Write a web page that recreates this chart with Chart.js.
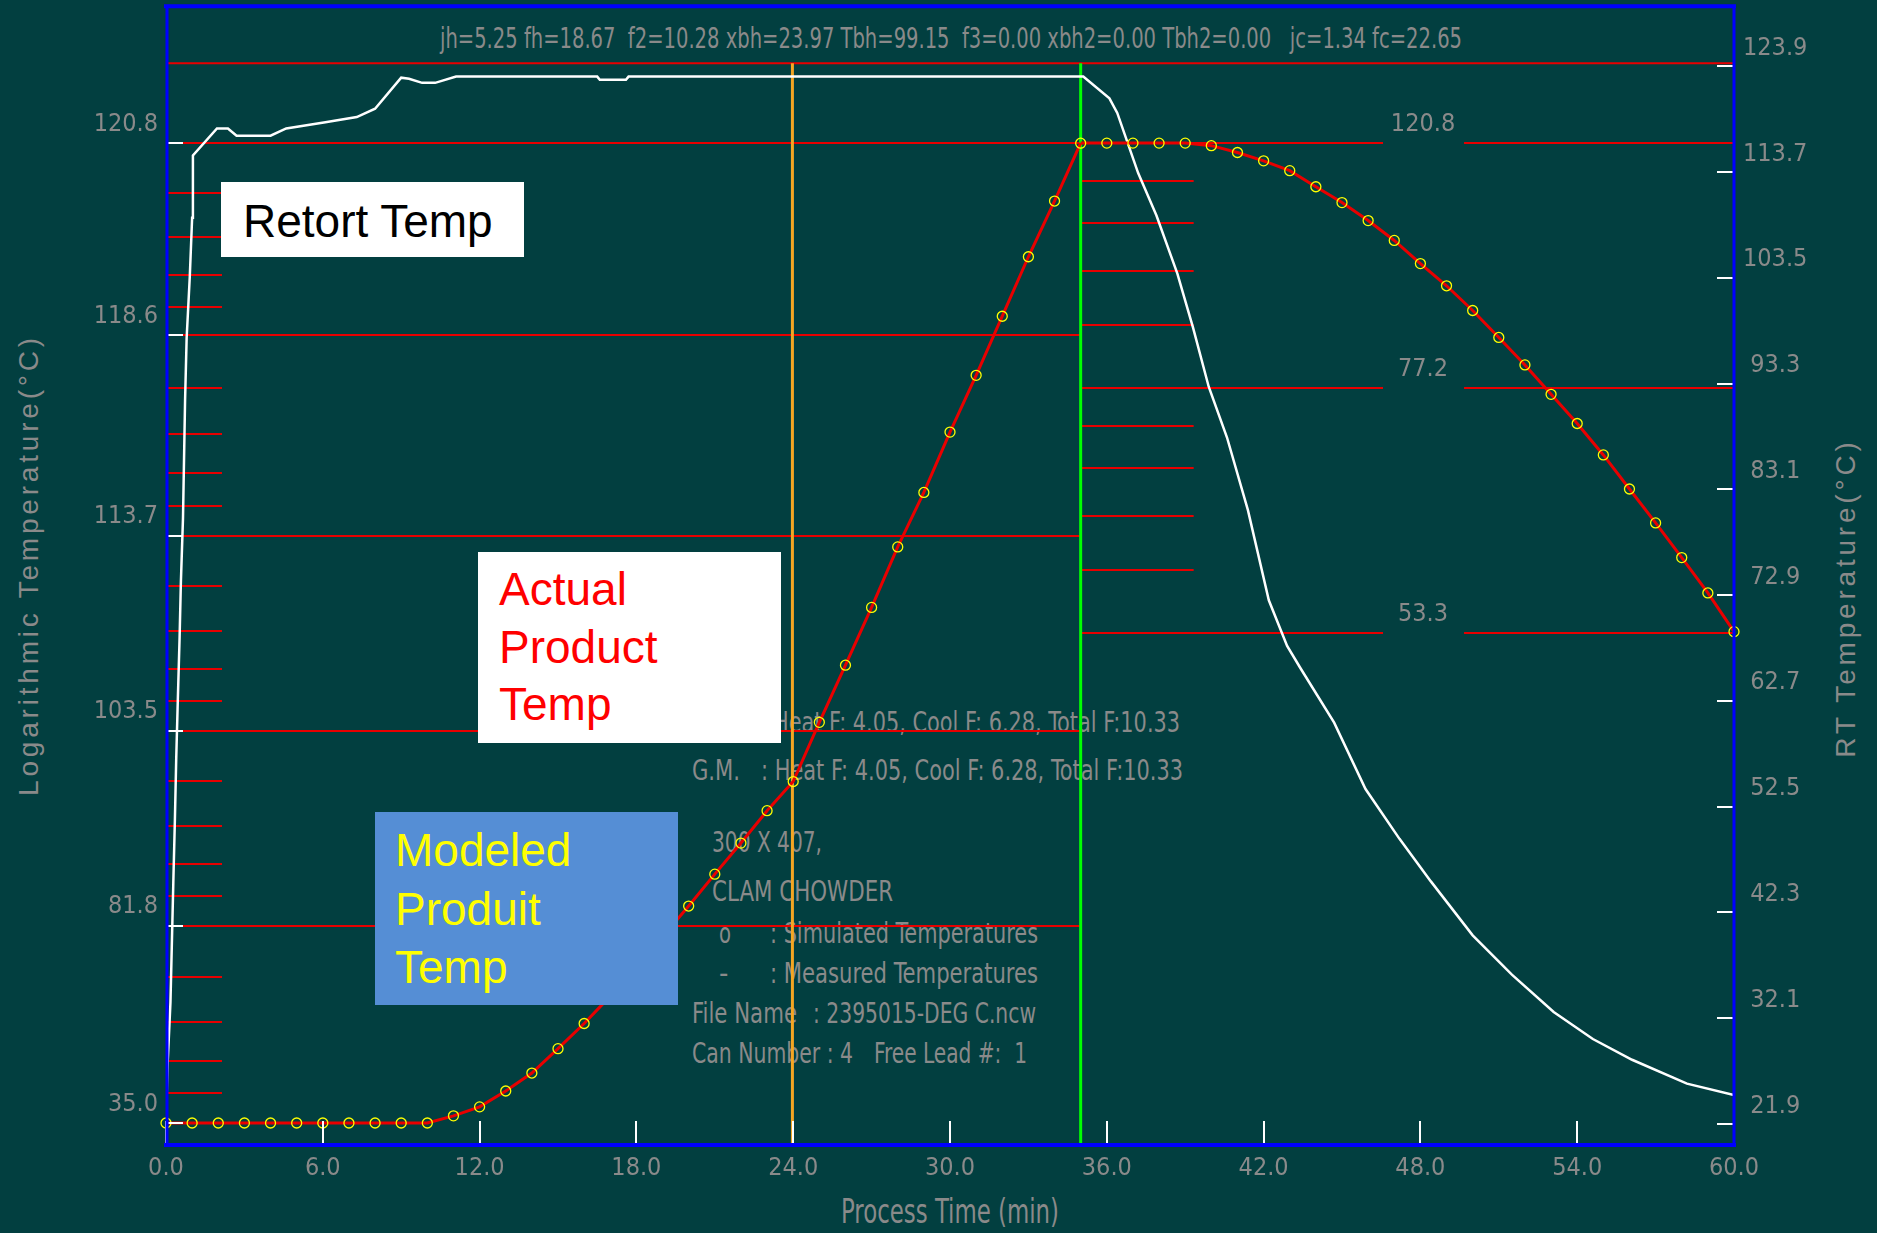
<!DOCTYPE html>
<html>
<head>
<meta charset="utf-8">
<title>Heat penetration simulation</title>
<script src="https://cdn.jsdelivr.net/npm/chart.js@4.4.1/dist/chart.umd.min.js"></script>
<style>
  body { margin: 0; background: #023f40; }
  #wrap { position: relative; width: 1877px; height: 1233px; overflow: hidden; }
  #c { position: absolute; left: 0; top: 0; z-index: 2; }
  .gt { position: absolute; z-index: 1; color: #8a8a8a; white-space: pre;
        font-family: 'Liberation Sans Narrow', 'Arial Narrow', 'DejaVu Sans Condensed', sans-serif;
        font-size: 29px; line-height: 30px; transform-origin: left center; }
  .vt { position: absolute; z-index: 1; color: #8a8a8a; white-space: pre;
        font-family: 'Liberation Sans', Arial, sans-serif; font-size: 28px; letter-spacing: 3.8px;
        transform: translate(-50%, -50%) rotate(-90deg); }
  .box { position: absolute; z-index: 3; box-sizing: border-box;
         font-family: 'Liberation Sans', Arial, sans-serif; font-size: 46px; }
</style>
</head>
<body>
<div id="wrap">
  <div class="gt" data-w="1022" style="left:440px;top:23px">jh=5.25 fh=18.67  f2=10.28 xbh=23.97 Tbh=99.15  f3=0.00 xbh2=0.00 Tbh2=0.00   jc=1.34 fc=22.65</div>

  <div class="gt" data-w="407" style="left:773px;top:707px">Heat F: 4.05, Cool F: 6.28, Total F:10.33</div>
  <div class="gt" data-w="48" style="left:692px;top:755px">G.M.</div>
  <div class="gt" data-w="422" style="left:761px;top:755px">: Heat F: 4.05, Cool F: 6.28, Total F:10.33</div>
  <div class="gt" data-w="110" style="left:712px;top:827px">300 X 407,</div>
  <div class="gt" data-w="181" style="left:712px;top:876px">CLAM CHOWDER</div>
  <div class="gt" data-w="12" style="left:719px;top:918px">o</div>
  <div class="gt" data-w="268" style="left:770px;top:918px">: Simulated Temperatures</div>
  <div class="gt" style="left:719px;top:958px">-</div>
  <div class="gt" data-w="268" style="left:770px;top:958px">: Measured Temperatures</div>
  <div class="gt" data-w="105" style="left:692px;top:998px">File Name</div>
  <div class="gt" data-w="223" style="left:813px;top:998px">: 2395015-DEG C.ncw</div>
  <div class="gt" data-w="161" style="left:692px;top:1038px">Can Number : 4</div>
  <div class="gt" data-w="153" style="left:874px;top:1038px">Free Lead #:  1</div>

  <div class="gt" data-w="218" style="left:841px;top:1195px;font-size:33px;line-height:34px">Process Time (min)</div>
  <div class="vt" style="left:29px;top:565px">Logarithmic Temperature(°C)</div>
  <div class="vt" style="left:1846px;top:598px">RT Temperature(°C)</div>

  <canvas id="c" width="1877" height="1233"></canvas>

  <div class="box" style="left:221px;top:182px;width:303px;height:75px;background:#fff;color:#000;padding:13px 0 0 22px;line-height:52px">Retort Temp</div>
  <div class="box" style="left:478px;top:552px;width:303px;height:191px;background:#fff;color:#ff0000;padding:9px 0 0 21px;line-height:57.5px">Actual<br>Product<br>Temp</div>
  <div class="box" style="left:375px;top:812px;width:303px;height:193px;background:#558ed5;color:#ffff00;padding:9px 0 0 20px;line-height:58.5px">Modeled<br>Produit<br>Temp</div>
</div>

<script>
// process time ticks (min)
var timeTicks = [0, 6, 12, 18, 24, 30, 36, 42, 48, 54, 60];

// product temperature, one reading per minute (simulated circles and measured line)
var productTime = [0, 1, 2, 3, 4, 5, 6, 7, 8, 9, 10, 11, 12, 13, 14, 15, 16, 17, 18, 19, 20,
  21, 22, 23, 24, 25, 26, 27, 28, 29, 30, 31, 32, 33, 34, 35, 36, 37, 38, 39, 40,
  41, 42, 43, 44, 45, 46, 47, 48, 49, 50, 51, 52, 53, 54, 55, 56, 57, 58, 59, 60];
var productTemp = [35.0, 35.0, 35.0, 35.0, 35.0, 35.0, 35.0, 35.0, 35.0, 35.0, 35.0,
  37.4, 40.3, 45.2, 50.4, 56.9, 63.0, 69.0, 74.7, 80.0, 84.8,
  89.2, 93.0, 96.5, 99.3, 104.1, 107.8, 110.8, 113.3, 115.1, 116.7,
  117.9, 118.9, 119.7, 120.3, 120.8, 120.8, 120.8, 120.8, 120.8, 120.2,
  118.6, 116.7, 114.5, 111.0, 107.7, 104.1, 100.3, 96.1, 92.3, 88.3,
  84.2, 80.3, 76.4, 72.8, 69.2, 65.6, 62.3, 59.2, 56.3, 53.4];

// retort temperature (right axis)
var retortTime = [0, 0.06, 0.17, 0.28, 0.34, 0.39, 0.45, 0.52, 0.57, 0.65, 0.73, 0.79, 0.91, 1.0, 1.03,
  1.95, 2.37, 2.7, 4.0, 4.6, 6.1, 7.3, 8.0, 9.0, 9.3, 9.8, 10.3, 11.1, 16.5, 16.6, 17.6, 17.7,
  35.0, 35.1, 36.1, 36.4, 37.2, 37.9, 38.7, 39.3, 39.9, 40.6, 41.4, 42.2, 42.9, 43.4, 44.7,
  45.9, 47.2, 48.4, 50.0, 51.5, 53.1, 54.6, 56.1, 58.2, 60.0];
var retortTemp = [22.0, 27.6, 33.6, 45.2, 51.2, 57.0, 62.6, 68.8, 74.2, 80.3, 91.7, 97.7, 103.6, 109.3, 115.3,
  117.9, 117.9, 117.2, 117.2, 117.9, 118.5, 119.0, 119.8, 122.8, 122.7, 122.3, 122.3, 122.9, 122.9, 122.6, 122.6, 122.9,
  122.9, 122.9, 120.8, 119.4, 113.6, 109.5, 103.9, 98.7, 93.0, 88.1, 81.1, 72.4, 68.0, 65.9, 60.6,
  54.2, 49.4, 45.3, 40.1, 36.3, 32.7, 30.1, 28.1, 25.8, 24.7];

// axis tick labels
var heatTickLabels = [120.8, 118.6, 113.7, 103.5, 81.8, 35.0];
var coolTickLabels = [120.8, 77.2, 53.3];
var rtTickLabels = [123.9, 113.7, 103.5, 93.3, 83.1, 72.9, 62.7, 52.5, 42.3, 32.1, 21.9];

// process markers
var heatBreakTime = 23.97;   // xbh
var coolStartTime = 35.0;
var topLimitTemp = 124.2;

var RT_HEAT = 122.8;   // heating axis is log(RT_HEAT - T), reversed
var T_COOL = 24.3;     // cooling axis is log(T - T_COOL)

var GREY = '#8a8a8a';
var RED = '#e80000';
var NARROW = "'Liberation Sans Narrow', 'Arial Narrow', 'DejaVu Sans Condensed', sans-serif";
var TICK_FONT = { family: NARROW, size: 25 };

// squeeze the narrow grey texts to the widths they take in the picture
document.querySelectorAll('[data-w]').forEach(function (el) {
  var w = el.getBoundingClientRect().width;
  el.style.transform = 'scaleX(' + (Number(el.dataset.w) / w) + ')';
});

var heatPts = [], coolPts = [], heatCircles = [], coolCircles = [];
productTime.forEach(function (t, i) {
  if (t <= coolStartTime) {
    heatPts.push({x: t, y: RT_HEAT - productTemp[i]});
    heatCircles.push({x: t, y: RT_HEAT - productTemp[i]});
  }
  if (t >= coolStartTime) coolPts.push({x: t, y: productTemp[i] - T_COOL});
  if (t > coolStartTime) coolCircles.push({x: t, y: productTemp[i] - T_COOL});
});
var retortPts = retortTime.map(function (t, i) { return {x: t, y: retortTemp[i]}; });

function line(ctx, x1, y1, x2, y2) {
  ctx.beginPath(); ctx.moveTo(x1, y1); ctx.lineTo(x2, y2); ctx.stroke();
}

var gridPlugin = {
  id: 'tempGrid',
  beforeDatasetsDraw: function (chart) {
    var ctx = chart.ctx, a = chart.chartArea, s = chart.scales;
    var xSplit = s.x.getPixelForValue(coolStartTime);
    ctx.save();
    ctx.strokeStyle = RED;
    ctx.lineWidth = 2;
    // heating log grid (no full line at the lowest label)
    var hv = heatTickLabels.map(function (T) { return RT_HEAT - T; });
    hv.forEach(function (v, i) {
      var y = Math.round(s.yLog.getPixelForValue(v));
      if (i < hv.length - 1) {
        line(ctx, a.left, y, xSplit, y);
        [0.26, 0.49, 0.685, 0.85].forEach(function (f) {
          var ym = Math.round(s.yLog.getPixelForValue(v * Math.pow(hv[i + 1] / v, f)));
          line(ctx, a.left, ym, a.left + 56, ym);
        });
      }
    });
    // cooling log grid
    var cv = coolTickLabels.map(function (T) { return T - T_COOL; });
    var xLab = s.x.getPixelForValue(48.1);
    ctx.font = TICK_FONT.size + 'px ' + NARROW;
    ctx.textAlign = 'center';
    ctx.textBaseline = 'middle';
    ctx.fillStyle = GREY;
    cv.forEach(function (v, i) {
      var y = Math.round(s.yCool.getPixelForValue(v));
      line(ctx, xSplit, y, xLab - 40, y);
      line(ctx, xLab + 41, y, a.right, y);
      ctx.fillText(coolTickLabels[i].toFixed(1), xLab, y - 19);
      if (i < cv.length - 1) {
        [0.155, 0.326, 0.521, 0.741].forEach(function (f) {
          var ym = Math.round(s.yCool.getPixelForValue(v * Math.pow(cv[i + 1] / v, f)));
          line(ctx, xSplit, ym, xSplit + 113, ym);
        });
      }
    });
    ctx.restore();
  },
  afterDatasetsDraw: function (chart) {
    var ctx = chart.ctx, a = chart.chartArea, s = chart.scales;
    ctx.save();
    ctx.strokeStyle = '#ffffff';
    ctx.lineWidth = 2;
    heatTickLabels.forEach(function (T) {
      var y = Math.round(s.yLog.getPixelForValue(RT_HEAT - T));
      line(ctx, a.left, y, a.left + 17, y);
    });
    rtTickLabels.forEach(function (T) {
      var y = Math.round(s.yRT.getPixelForValue(T));
      line(ctx, a.right - 17, y, a.right, y);
    });
    timeTicks.forEach(function (t) {
      var x = Math.round(s.x.getPixelForValue(t));
      line(ctx, x, a.bottom - 24, x, a.bottom);
    });
    // plot frame
    ctx.strokeStyle = '#0000ff';
    ctx.lineWidth = 4;
    line(ctx, a.left - 2, a.top, a.right + 2, a.top);
    line(ctx, a.left - 2, a.bottom, a.right + 2, a.bottom);
    ctx.lineWidth = 3;
    line(ctx, a.left + 1, a.top, a.left + 1, a.bottom);
    line(ctx, a.right, a.top, a.right, a.bottom);
    ctx.restore();
  }
};

function noPad(s) { s.paddingTop = 0; s.paddingBottom = 0; s.paddingLeft = 0; s.paddingRight = 0; }

new Chart(document.getElementById('c').getContext('2d'), {
  type: 'line',
  data: {
    datasets: [
      { data: heatCircles, yAxisID: 'yLog', showLine: false, clip: false,
        pointStyle: 'circle', pointRadius: 5, pointBorderWidth: 1.3,
        pointBorderColor: '#ffff00', pointBackgroundColor: 'rgba(0,0,0,0)' },
      { data: coolCircles, yAxisID: 'yCool', showLine: false, clip: false,
        pointStyle: 'circle', pointRadius: 5, pointBorderWidth: 1.3,
        pointBorderColor: '#ffff00', pointBackgroundColor: 'rgba(0,0,0,0)' },
      { data: heatPts, yAxisID: 'yLog', borderColor: RED, borderWidth: 3, pointRadius: 0, clip: false },
      { data: coolPts, yAxisID: 'yCool', borderColor: RED, borderWidth: 3, pointRadius: 0, clip: false },
      { data: retortPts, yAxisID: 'yRT', borderColor: '#ffffff', borderWidth: 2.5, pointRadius: 0 },
      { data: [{x: coolStartTime, y: topLimitTemp}, {x: coolStartTime, y: 0}], yAxisID: 'yRT',
        borderColor: '#00ff00', borderWidth: 3, pointRadius: 0 },
      { data: [{x: heatBreakTime, y: topLimitTemp}, {x: heatBreakTime, y: 0}], yAxisID: 'yRT',
        borderColor: '#f5a623', borderWidth: 3, pointRadius: 0 },
      { data: [{x: 0, y: topLimitTemp}, {x: 60, y: topLimitTemp}], yAxisID: 'yRT',
        borderColor: RED, borderWidth: 2, pointRadius: 0 }
    ]
  },
  options: {
    responsive: false,
    animation: false,
    devicePixelRatio: 1,
    layout: { padding: { top: 6, left: 0, right: 0, bottom: 0 } },
    plugins: { legend: { display: false }, tooltip: { enabled: false } },
    elements: { line: { tension: 0 } },
    scales: {
      x: {
        type: 'linear', position: 'bottom', min: 0, max: 60, bounds: 'data',
        grid: { display: false, drawTicks: false }, border: { display: false },
        ticks: { color: GREY, font: TICK_FONT, padding: 8, autoSkip: false, maxRotation: 0,
                 callback: function (v) { return Number(v).toFixed(1); } },
        afterBuildTicks: function (s) { s.ticks = timeTicks.map(function (v) { return {value: v}; }); },
        afterFit: function (s) { s.height = 88; noPad(s); }
      },
      yLog: {
        type: 'logarithmic', position: 'left', reverse: true, min: 1.179, max: 95.58, bounds: 'data',
        grid: { display: false, drawTicks: false }, border: { display: false },
        ticks: { color: GREY, font: TICK_FONT, padding: 8, labelOffset: -19, autoSkip: false,
                 callback: function (v) { return (RT_HEAT - v).toFixed(1); } },
        afterBuildTicks: function (s) { s.ticks = heatTickLabels.map(function (T) { return {value: RT_HEAT - T}; }); },
        afterFit: function (s) { s.width = 166; noPad(s); }
      },
      yRT: {
        type: 'linear', position: 'right', min: 19.88, max: 129.68, bounds: 'data',
        grid: { display: false, drawTicks: false }, border: { display: false },
        ticks: { color: GREY, font: TICK_FONT, padding: 9, labelOffset: -18, autoSkip: false,
                 crossAlign: 'center', callback: function (v) { return Number(v).toFixed(1); } },
        afterBuildTicks: function (s) { s.ticks = rtTickLabels.map(function (T) { return {value: T}; }); },
        afterFit: function (s) { s.width = 143; noPad(s); }
      },
      yCool: {
        type: 'logarithmic', display: false, min: 8.258, max: 135.0, bounds: 'data'
      }
    }
  },
  plugins: [gridPlugin]
});
</script>
</body>
</html>
